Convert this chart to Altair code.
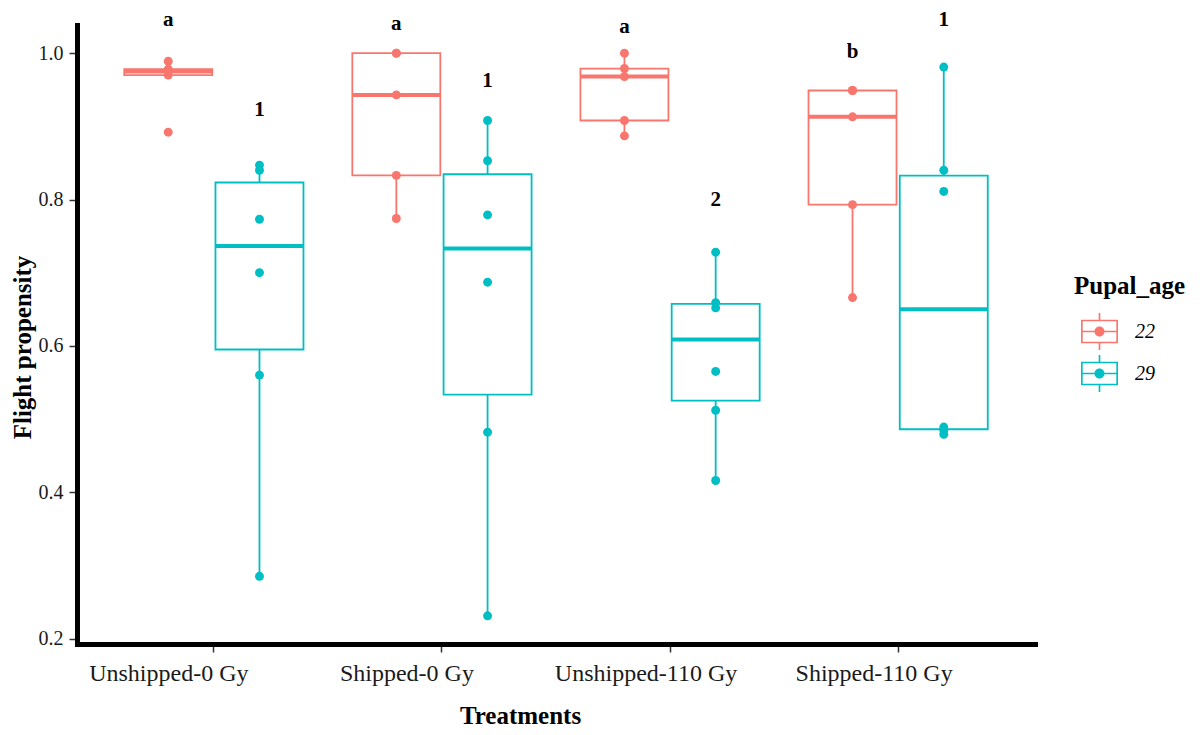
import altair as alt
import pandas as pd

# ---- data ----
treatments = ["Unshipped-0 Gy", "Shipped-0 Gy", "Unshipped-110 Gy", "Shipped-110 Gy"]
ages = ["22", "29"]

age22_unshipped_0 = [0.989, 0.978, 0.975, 0.970, 0.892]
age22_shipped_0 = [1.000, 1.000, 0.943, 0.833, 0.774]
age22_unshipped_110 = [1.000, 0.979, 0.968, 0.908, 0.887]
age22_shipped_110 = [0.949, 0.949, 0.913, 0.793, 0.666]

age29_unshipped_0 = [0.847, 0.840, 0.773, 0.700, 0.560, 0.285]
age29_shipped_0 = [0.908, 0.853, 0.779, 0.687, 0.482, 0.231]
age29_unshipped_110 = [0.728, 0.659, 0.652, 0.565, 0.512, 0.416]
age29_shipped_110 = [0.981, 0.840, 0.811, 0.489, 0.485, 0.479]

label_treatment = treatments + treatments
label_age = ["22"] * 4 + ["29"] * 4
label_text = ["a", "a", "a", "b", "1", "1", "2", "1"]
label_height = [1.046, 1.040, 1.036, 1.002, 0.922, 0.962, 0.799, 1.046]

groups = [
    ("Unshipped-0 Gy", "22", age22_unshipped_0),
    ("Shipped-0 Gy", "22", age22_shipped_0),
    ("Unshipped-110 Gy", "22", age22_unshipped_110),
    ("Shipped-110 Gy", "22", age22_shipped_110),
    ("Unshipped-0 Gy", "29", age29_unshipped_0),
    ("Shipped-0 Gy", "29", age29_shipped_0),
    ("Unshipped-110 Gy", "29", age29_unshipped_110),
    ("Shipped-110 Gy", "29", age29_shipped_110),
]
rows = []
for t, a, vals in groups:
    for v in vals:
        rows.append({"Treatment": t, "Pupal_age": a, "value": v})
df = pd.DataFrame(rows)

labels_df = pd.DataFrame({
    "Treatment": label_treatment,
    "Pupal_age": label_age,
    "label": label_text,
    "height": label_height,
})

SERIF = "Liberation Serif"
COLORS = ["#F8766D", "#00BFC4"]

x_axis = alt.Axis(
    domainColor="black", domainWidth=5, domainCap="square",
    ticks=True, tickColor="#333333", tickWidth=1.5, tickSize=8,
    labelFont=SERIF, labelFontSize=24, labelColor="#1a1a1a", labelPadding=9,
    labelAngle=0, labelLimit=400,
    labelOffset={"condition": [
        {"test": "datum.value === 'Unshipped-0 Gy'", "value": -45},
        {"test": "datum.value === 'Shipped-0 Gy'", "value": -35},
    ], "value": -24},
    titleFont=SERIF, titleFontSize=25, titleFontWeight="bold", titleColor="black",
    titleX=443, titleY=79, titleBaseline="alphabetic",
    grid=False,
)
y_axis = alt.Axis(
    values=[0.2, 0.4, 0.6, 0.8, 1.0], format=".1f",
    domainColor="black", domainWidth=5, domainCap="square",
    tickColor="#333333", tickWidth=1.5, tickSize=8,
    labelFont=SERIF, labelFontSize=20, labelColor="#1a1a1a", labelPadding=6,
    titleFont=SERIF, titleFontSize=25, titleFontWeight="bold", titleColor="black",
    titleX=-47, titleY=322, titleBaseline="alphabetic", titleAlign="center",
    grid=False,
)
x_scale = alt.Scale(paddingInner=0, paddingOuter=0.1)
y_scale = alt.Scale(domain=[0.1925, 1.0385], nice=False, zero=False)
off_scale = alt.Scale(paddingInner=0, paddingOuter=0.25)
color_scale = alt.Scale(domain=ages, range=COLORS)


def X():
    return alt.X("Treatment:N", sort=treatments, scale=x_scale, axis=x_axis, title="Treatments")


def XO():
    return alt.XOffset("Pupal_age:N", sort=ages, scale=off_scale)


def Y(field):
    return alt.Y(field, scale=y_scale, axis=y_axis, title="Flight propensity")


def C(legend=None):
    if legend is None:
        return alt.Color("Pupal_age:N", scale=color_scale, legend=None)
    return alt.Color("Pupal_age:N", scale=color_scale, legend=legend)


base = alt.Chart(df)
stats = (
    base.transform_joinaggregate(q1="q1(value)", q3="q3(value)", groupby=["Treatment", "Pupal_age"])
    .transform_calculate(
        lo="datum.q1 - 1.5 * (datum.q3 - datum.q1)",
        hi="datum.q3 + 1.5 * (datum.q3 - datum.q1)",
    )
    .transform_calculate(vin="(datum.value >= datum.lo && datum.value <= datum.hi) ? datum.value : null")
    .transform_aggregate(
        q1="min(q1)", q3="min(q3)", med="median(value)", wlo="min(vin)", whi="max(vin)",
        groupby=["Treatment", "Pupal_age"],
    )
)

lower = stats.mark_rule(strokeWidth=1.8).encode(x=X(), xOffset=XO(), y=Y("wlo:Q"), y2=alt.Y2("q1:Q"), color=C())
upper = stats.mark_rule(strokeWidth=1.8).encode(x=X(), xOffset=XO(), y=Y("q3:Q"), y2=alt.Y2("whi:Q"), color=C())
box = stats.mark_bar(filled=False, width=88, strokeWidth=1.8).encode(
    x=X(), xOffset=XO(), y=Y("q1:Q"), y2=alt.Y2("q3:Q"), color=C())
median = stats.mark_tick(thickness=4, size=88, opacity=1).encode(
    x=X(), xOffset=XO(), y=Y("med:Q"), color=C())

legend_path = (
    "M-1,-0.64H1V-0.56H-1Z "
    "M-1,0.56H1V0.64H-1Z "
    "M-1,-0.64H-0.91V0.64H-1Z "
    "M0.91,-0.64H1V0.64H0.91Z "
    "M-1,-0.045H1V0.045H-1Z "
    "M-0.045,-1H0.045V-0.64H-0.045Z "
    "M-0.045,0.64H0.045V1H-0.045Z "
    "M0.27,0A0.27,0.27 0 1,1 -0.27,0A0.27,0.27 0 1,1 0.27,0Z"
)
legend = alt.Legend(
    title="Pupal_age", orient="none", legendX=997, legendY=249,
    symbolType=legend_path, symbolSize=1369, symbolStrokeWidth=0, symbolOpacity=1,
    symbolOffset=7, labelOffset=17, rowPadding=5, padding=0,
    labelFont=SERIF, labelFontSize=20, labelFontStyle="italic", labelColor="black",
    titleFont=SERIF, titleFontSize=25, titleFontWeight="bold", titleColor="black",
    titlePadding=14,
)
points = base.mark_circle(size=80, opacity=1).encode(
    x=X(), xOffset=XO(), y=Y("value:Q"), color=C(legend))

texts = alt.Chart(labels_df).mark_text(
    font=SERIF, fontSize=21, fontWeight="bold", color="black", baseline="middle"
).encode(x=X(), xOffset=XO(), y=Y("height:Q"), text="label:N")

chart = (
    alt.layer(lower, upper, box, median, points, texts)
    .resolve_legend(color="independent")
    .properties(
        width=958, height=619,
        padding={"left": 69, "top": 17, "right": 157, "bottom": 83},
        autosize=alt.AutoSizeParams(type="none"),
        background="white",
    )
    .configure_view(stroke=None)
)

chart.save("out.html", embed_options={"renderer": "svg", "actions": False})
